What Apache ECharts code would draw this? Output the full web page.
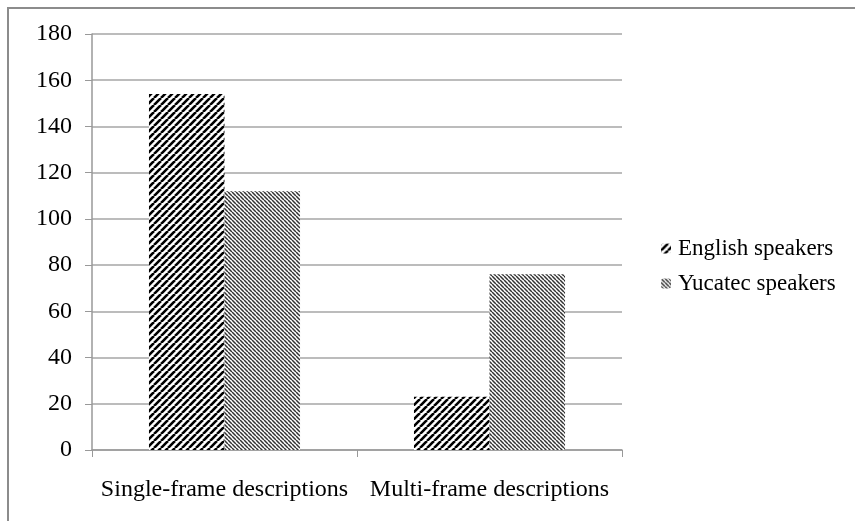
<!DOCTYPE html>
<html>
<head>
<meta charset="utf-8">
<script src="https://cdn.jsdelivr.net/npm/echarts@6/dist/echarts.min.js"></script>
<style>
  html, body { margin: 0; padding: 0; background: #fff; }
  #chart { width: 855px; height: 521px; }
</style>
</head>
<body>
<div id="chart"></div>
<script>
const categories = ['Single-frame descriptions', 'Multi-frame descriptions'];
const seriesNames = ['English speakers', 'Yucatec speakers'];
const englishValues = [154, 23];
const yucatecValues = [112, 76];
const yTicks = [0, 20, 40, 60, 80, 100, 120, 140, 160, 180];

// hatch fill: diagonal stripes drawn into a small tile
function hatch(size, lineW, color, dir) {
    const c = document.createElement('canvas');
    c.width = size;
    c.height = size;
    const ctx = c.getContext('2d');
    ctx.fillStyle = '#fff';
    ctx.fillRect(0, 0, size, size);
    ctx.strokeStyle = color;
    ctx.lineWidth = lineW;
    ctx.beginPath();
    for (let k = -1; k <= 1; k++) {
        if (dir === '/') {
            ctx.moveTo(k * size, size);
            ctx.lineTo(k * size + size, 0);
        } else {
            ctx.moveTo(k * size, 0);
            ctx.lineTo(k * size + size, size);
        }
    }
    ctx.stroke();
    return c;
}

const engFill = { image: hatch(7, 2.6, '#000', '/'), repeat: 'repeat' };
const yucFill = { image: hatch(4, 1.5, '#333', '\\'), repeat: 'repeat' };

const font = '"Liberation Serif", "Times New Roman", serif';

let myChart = echarts.init(document.getElementById('chart'));
let option = {
    animation: false,
    backgroundColor: '#fff',
    graphic: [
        {
            type: 'rect',
            shape: { x: 8, y: 8, width: 900, height: 560 },
            style: { fill: 'none', stroke: '#8c8c8c', lineWidth: 2 },
            z: -1
        }
    ],
    legend: {
        orient: 'vertical',
        left: 656,
        top: 232,
        itemGap: 12,
        itemWidth: 10,
        itemHeight: 10,
        data: seriesNames,
        textStyle: {
            fontFamily: font,
            fontSize: 23,
            color: '#000',
            padding: [0, 0, 0, 2]
        }
    },
    grid: {
        left: 92,
        right: 233,
        top: 34,
        bottom: 71
    },
    xAxis: {
        type: 'category',
        data: categories,
        axisLine: { show: true, lineStyle: { color: '#999', width: 1.5 } },
        axisTick: { show: true, length: 7, lineStyle: { color: '#999' } },
        axisLabel: {
            interval: 0,
            fontFamily: font,
            fontSize: 24,
            color: '#000',
            margin: 28
        }
    },
    yAxis: {
        type: 'value',
        min: 0,
        max: 180,
        interval: 20,
        axisLine: { show: true, lineStyle: { color: '#999', width: 1.5 } },
        axisTick: { show: true, length: 7, lineStyle: { color: '#999' } },
        splitLine: { show: true, lineStyle: { color: '#a6a6a6', width: 1.5 } },
        axisLabel: {
            fontFamily: font,
            fontSize: 24,
            color: '#000',
            margin: 20,
            formatter: v => (yTicks.includes(v) ? String(v) : '')
        }
    },
    series: [
        {
            name: seriesNames[0],
            type: 'bar',
            data: englishValues,
            barGap: '0%',
            barCategoryGap: '43%',
            itemStyle: { color: engFill }
        },
        {
            name: seriesNames[1],
            type: 'bar',
            data: yucatecValues,
            barGap: '0%',
            barCategoryGap: '43%',
            itemStyle: { color: yucFill }
        }
    ]
};
myChart.setOption(option, true);
</script>
</body>
</html>
